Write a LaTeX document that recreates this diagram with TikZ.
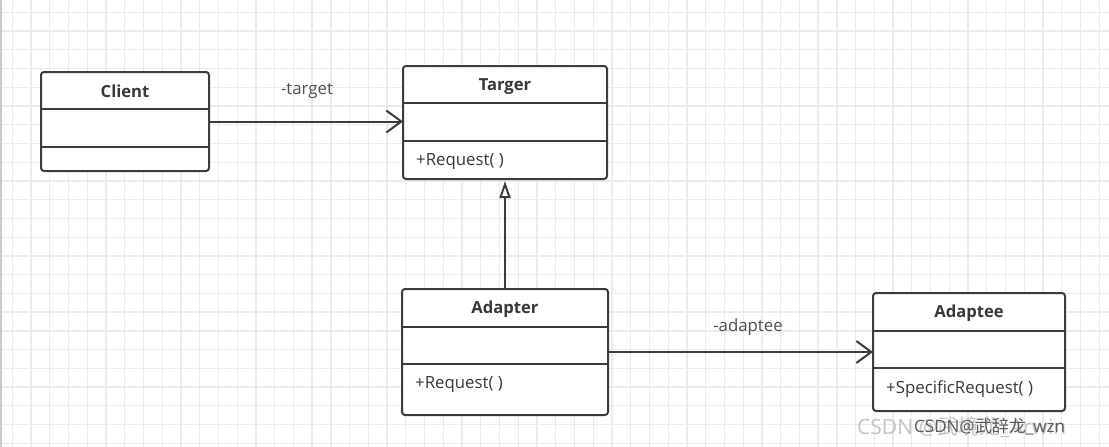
\documentclass[tikz,border=0pt]{standalone}
\usepackage{fontspec}
\setmainfont{Open Sans}
\newfontfamily\cjkfont{Noto Sans CJK SC}
\usetikzlibrary{arrows.meta,calc}
\definecolor{gridc}{HTML}{EBEBEB}
\definecolor{edgec}{HTML}{C8C8C8}
\definecolor{linec}{HTML}{3C3C3C}
\definecolor{textc}{HTML}{383838}
\definecolor{lbltc}{HTML}{505050}
\definecolor{wmlight}{HTML}{C4C4C4}
\definecolor{wmdark}{HTML}{5A5A5A}
\begin{document}
\begin{tikzpicture}[x=1pt,y=-1pt,
  gridline/.style={draw=gridc,line width=1.3pt},
  classbox/.style={draw=linec,line width=2pt,rounded corners=3pt,fill=white,inner sep=0pt,outer sep=0pt,anchor=north west},
  divider/.style={draw=linec,line width=2pt},
  titletext/.style={font=\fontsize{16.6}{19}\selectfont\bfseries,text=textc,inner sep=0pt,anchor=base},
  methodtext/.style={font=\fontsize{16.8}{19}\selectfont,text=textc,anchor=base west,inner sep=0pt},
  lbltext/.style={font=\fontsize{16.8}{19}\selectfont,text=lbltc,inner sep=0pt,anchor=base},
  assoc/.style={draw=linec,line width=2pt,-{Straight Barb[length=15pt,width=22pt,line width=2pt]}},
  inherit/.style={draw=linec,line width=2pt,-{Triangle[open,length=17pt,width=11pt,line width=2pt,fill=white]}}
]
% background and bounding box
\fill[white] (0,0) rectangle (1109,447);
\useasboundingbox (0,0) rectangle (1109,447);
% grid
\foreach \k in {0,...,58} \draw[gridline] ({12.3+18.74*\k},0) -- ({12.3+18.74*\k},447);
\foreach \k in {0,...,23} \draw[gridline] (0,{12.3+18.74*\k}) -- (1109,{12.3+18.74*\k});
\draw[edgec,line width=1.5pt] (0.75,0) -- (0.75,447);

% Client
\node[classbox,minimum width=168pt,minimum height=99pt] (client) at (41,72) {};
\draw[divider] (41,109.3) -- (209,109.3);
\draw[divider] (41,147.3) -- (209,147.3);
\node[titletext] (clientT) at (125,97) {Client};

% Targer
\node[classbox,minimum width=204pt,minimum height=113pt] (targer) at (403,66) {};
\draw[divider] (403,102.7) -- (607,102.7);
\draw[divider] (403,140.7) -- (607,140.7);
\node[titletext] (targerT) at (505,90.5) {Targer};
\node[methodtext] (targerM) at (416,165.5) {+Request( )};

% Adapter
\node[classbox,minimum width=206pt,minimum height=126pt] (adapter) at (402,289) {};
\draw[divider] (402,326.7) -- (608,326.7);
\draw[divider] (402,364) -- (608,364);
\node[titletext] (adapterT) at (505,313.8) {Adapter};
\node[methodtext] (adapterM) at (415,388.8) {+Request( )};

% Adaptee
\node[classbox,minimum width=192pt,minimum height=118pt] (adaptee) at (873,293) {};
\draw[divider] (873,330.7) -- (1065,330.7);
\draw[divider] (873,368.3) -- (1065,368.3);
\node[titletext] (adapteeT) at (969,317.8) {Adaptee};
\node[methodtext] (adapteeM) at (886,393) {+SpecificRequest( )};

% connectors
\draw[assoc] (client.east) -- (client.east -| targer.west);
\node[lbltext] (lblTarget) at (307,94.5) {-target};
\draw[inherit] (adapter.north) -- ($(targer.south)+(0,2)$);
\draw[assoc] (adapter.east) -- (adapter.east -| adaptee.west);
\node[lbltext] (lblAdaptee) at (748,331.5) {-adaptee};

% watermark
\node[anchor=west,inner sep=0pt,text=wmlight,font=\fontsize{21}{24}\selectfont] (wm1) at (857,427) {CSDN @\cjkfont 武境龙\rmfamily\_Arwin};
\node[anchor=west,inner sep=0pt,text=wmdark,font=\fontsize{17}{20}\selectfont] (wm2) at (914,427) {CSDN@\cjkfont 武辞龙\rmfamily\_wzn};
\end{tikzpicture}
\end{document}
